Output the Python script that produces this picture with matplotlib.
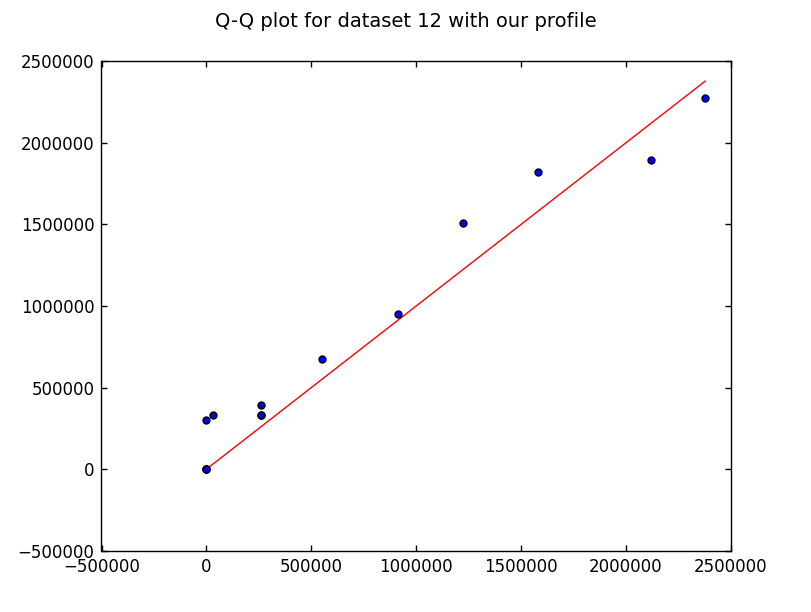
import matplotlib
matplotlib.use("Agg")
import matplotlib.pyplot as plt

x_vals = [0, 0, 0, 0, 30000, 259000, 259000, 259000, 550000, 912000, 1222000, 1580000, 2119000, 2375000]
y_vals = [0, 0, 0, 300000, 332000, 332000, 332000, 394000, 675000, 951000, 1509000, 1822000, 1895000, 2274000]
line_x = [0, 2378000]
line_y = [0, 2378000]

plt.rcParams['font.family'] = ['DejaVu Sans']
fig = plt.figure(figsize=(8.12, 6.12), dpi=100, facecolor='white')
ax = fig.add_axes([0.125, 0.1, 0.775, 0.8])
ax.plot(line_x, line_y, color='red', linewidth=1)
ax.scatter(x_vals, y_vals, s=25, c='blue', edgecolors='black', linewidths=1, zorder=3)
ax.set_xlim(-500000, 2500000)
ax.set_ylim(-500000, 2500000)
ax.set_xticks(range(-500000, 2500001, 500000))
ax.set_yticks(range(-500000, 2500001, 500000))
ax.ticklabel_format(style='plain', useOffset=False)
ax.tick_params(direction='in', top=True, right=True, labelsize=12, length=4, width=1, pad=5)
for s in ax.spines.values():
    s.set_linewidth(1)
fig.suptitle('Q-Q plot for dataset 12 with our profile', fontsize=14, y=0.98)
fig.savefig('out.png', dpi=100, facecolor='white')
